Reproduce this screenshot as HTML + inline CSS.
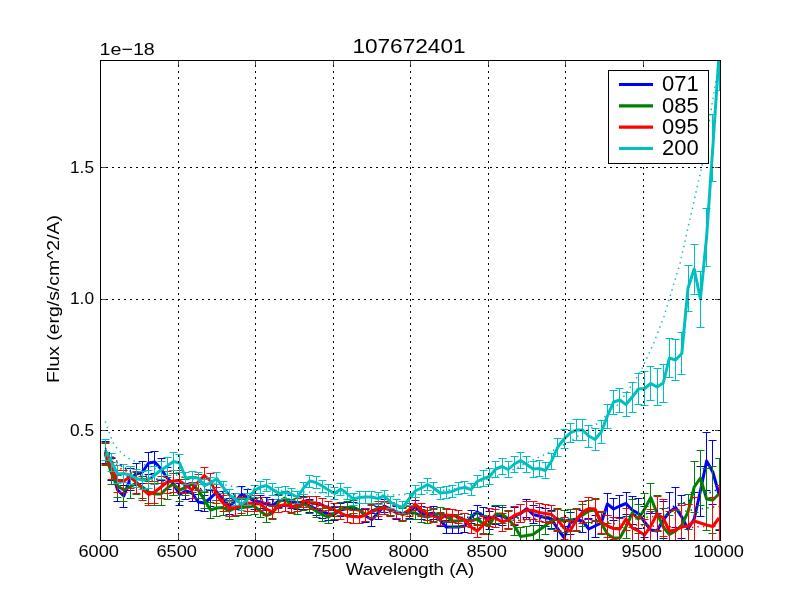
<!DOCTYPE html><html><head><meta charset="utf-8"><style>html,body{margin:0;padding:0;width:800px;height:600px;overflow:hidden;background:#fff}text{will-change:transform}</style></head><body><svg width="800" height="600" viewBox="0 0 800 600" style="position:absolute;left:0;top:0"><rect x="0" y="0" width="800" height="600" fill="#fff"/><defs><clipPath id="ax"><rect x="100.5" y="60.5" width="620" height="480"/></clipPath></defs><g clip-path="url(#ax)"><path d="M105.5 441.5V463.5M101.5 441.5h8M101.5 463.5h8M111.5 458.5V480.5M107.5 458.5h8M107.5 480.5h8M117.5 479.5V501.5M113.5 479.5h8M113.5 501.5h8M123.5 485.5V507.5M119.5 485.5h8M119.5 507.5h8M130.5 468.5V490.5M126.5 468.5h8M126.5 490.5h8M136.5 463.5V485.5M132.5 463.5h8M132.5 485.5h8M142.5 461.5V483.5M138.5 461.5h8M138.5 483.5h8M148.5 452.5V474.5M144.5 452.5h8M144.5 474.5h8M154.5 451.5V473.5M150.5 451.5h8M150.5 473.5h8M161.5 458.5V480.5M157.5 458.5h8M157.5 480.5h8M167.5 467.5V489.5M163.5 467.5h8M163.5 489.5h8M173.5 473.5V495.5M169.5 473.5h8M169.5 495.5h8M179.5 483.5V505.5M175.5 483.5h8M175.5 505.5h8M185.5 483.5V499.5M181.5 483.5h8M181.5 499.5h8M192.5 485.5V501.5M188.5 485.5h8M188.5 501.5h8M198.5 494.5V510.5M194.5 494.5h8M194.5 510.5h8M204.5 495.5V511.5M200.5 495.5h8M200.5 511.5h8M210.5 490.5V506.5M206.5 490.5h8M206.5 506.5h8M216.5 484.5V500.5M212.5 484.5h8M212.5 500.5h8M223.5 491.5V507.5M219.5 491.5h8M219.5 507.5h8M229.5 498.5V514.5M225.5 498.5h8M225.5 514.5h8M235.5 493.5V509.5M231.5 493.5h8M231.5 509.5h8M241.5 486.5V502.5M237.5 486.5h8M237.5 502.5h8M247.5 489.5V505.5M243.5 489.5h8M243.5 505.5h8M254.5 493.5V509.5M250.5 493.5h8M250.5 509.5h8M260.5 495.5V508.5M256.5 495.5h8M256.5 508.5h8M266.5 497.5V510.5M262.5 497.5h8M262.5 510.5h8M272.5 499.5V512.5M268.5 499.5h8M268.5 512.5h8M278.5 494.5V507.5M274.5 494.5h8M274.5 507.5h8M285.5 493.5V506.5M281.5 493.5h8M281.5 506.5h8M291.5 495.5V508.5M287.5 495.5h8M287.5 508.5h8M297.5 496.5V509.5M293.5 496.5h8M293.5 509.5h8M303.5 496.5V509.5M299.5 496.5h8M299.5 509.5h8M309.5 499.5V512.5M305.5 499.5h8M305.5 512.5h8M316.5 502.5V515.5M312.5 502.5h8M312.5 515.5h8M322.5 505.5V518.5M318.5 505.5h8M318.5 518.5h8M328.5 507.5V520.5M324.5 507.5h8M324.5 520.5h8M334.5 507.5V520.5M330.5 507.5h8M330.5 520.5h8M340.5 503.5V516.5M336.5 503.5h8M336.5 516.5h8M347.5 502.5V515.5M343.5 502.5h8M343.5 515.5h8M353.5 502.5V515.5M349.5 502.5h8M349.5 515.5h8M359.5 503.5V516.5M355.5 503.5h8M355.5 516.5h8M365.5 509.5V522.5M361.5 509.5h8M361.5 522.5h8M371.5 513.5V526.5M367.5 513.5h8M367.5 526.5h8M378.5 506.5V519.5M374.5 506.5h8M374.5 519.5h8M384.5 499.5V512.5M380.5 499.5h8M380.5 512.5h8M390.5 502.5V515.5M386.5 502.5h8M386.5 515.5h8M396.5 506.5V519.5M392.5 506.5h8M392.5 519.5h8M402.5 507.5V520.5M398.5 507.5h8M398.5 520.5h8M409.5 505.5V518.5M405.5 505.5h8M405.5 518.5h8M415.5 500.5V513.5M411.5 500.5h8M411.5 513.5h8M421.5 506.5V519.5M417.5 506.5h8M417.5 519.5h8M427.5 507.5V520.5M423.5 507.5h8M423.5 520.5h8M433.5 506.5V519.5M429.5 506.5h8M429.5 519.5h8M440.5 513.5V526.5M436.5 513.5h8M436.5 526.5h8M446.5 520.5V533.5M442.5 520.5h8M442.5 533.5h8M452.5 520.5V533.5M448.5 520.5h8M448.5 533.5h8M458.5 520.5V533.5M454.5 520.5h8M454.5 533.5h8M464.5 519.5V532.5M460.5 519.5h8M460.5 532.5h8M471.5 510.5V523.5M467.5 510.5h8M467.5 523.5h8M477.5 505.5V518.5M473.5 505.5h8M473.5 518.5h8M483.5 507.5V525.5M479.5 507.5h8M479.5 525.5h8M489.5 511.5V529.5M485.5 511.5h8M485.5 529.5h8M495.5 506.5V524.5M491.5 506.5h8M491.5 524.5h8M502.5 507.5V525.5M498.5 507.5h8M498.5 525.5h8M508.5 510.5V528.5M504.5 510.5h8M504.5 528.5h8M514.5 507.5V525.5M510.5 507.5h8M510.5 525.5h8M520.5 504.5V522.5M516.5 504.5h8M516.5 522.5h8M526.5 499.5V517.5M522.5 499.5h8M522.5 517.5h8M533.5 505.5V523.5M529.5 505.5h8M529.5 523.5h8M539.5 507.5V525.5M535.5 507.5h8M535.5 525.5h8M545.5 508.5V526.5M541.5 508.5h8M541.5 526.5h8M551.5 510.5V528.5M547.5 510.5h8M547.5 528.5h8M557.5 518.5V540.5M553.5 518.5h8M553.5 540.5h8M564.5 526.5V548.5M560.5 526.5h8M560.5 548.5h8M570.5 512.5V534.5M566.5 512.5h8M566.5 534.5h8M576.5 509.5V531.5M572.5 509.5h8M572.5 531.5h8M582.5 510.5V532.5M578.5 510.5h8M578.5 532.5h8M588.5 518.5V540.5M584.5 518.5h8M584.5 540.5h8M595.5 515.5V537.5M591.5 515.5h8M591.5 537.5h8M601.5 512.5V534.5M597.5 512.5h8M597.5 534.5h8M607.5 493.5V515.5M603.5 493.5h8M603.5 515.5h8M613.5 498.5V520.5M609.5 498.5h8M609.5 520.5h8M619.5 495.5V517.5M615.5 495.5h8M615.5 517.5h8M626.5 492.5V514.5M622.5 492.5h8M622.5 514.5h8M632.5 496.5V524.5M628.5 496.5h8M628.5 524.5h8M638.5 498.5V528.5M634.5 498.5h8M634.5 528.5h8M644.5 506.5V537.5M640.5 506.5h8M640.5 537.5h8M650.5 513.5V546.5M646.5 513.5h8M646.5 546.5h8M657.5 513.5V548.5M653.5 513.5h8M653.5 548.5h8M663.5 501.5V538.5M659.5 501.5h8M659.5 538.5h8M669.5 492.5V531.5M665.5 492.5h8M665.5 531.5h8M675.5 487.5V527.5M671.5 487.5h8M671.5 527.5h8M681.5 495.5V538.5M677.5 495.5h8M677.5 538.5h8M688.5 504.5V554.5M684.5 504.5h8M684.5 554.5h8M694.5 492.5V545.5M690.5 492.5h8M690.5 545.5h8M700.5 466.5V516.5M696.5 466.5h8M696.5 516.5h8M706.5 432.5V490.5M702.5 432.5h8M702.5 490.5h8M712.5 440.5V504.5M708.5 440.5h8M708.5 504.5h8M719.5 458.5V530.5M715.5 458.5h8M715.5 530.5h8" stroke="#0000ff" stroke-width="1" fill="none"/><polyline points="105.2,452.0 111.4,469.0 117.6,490.0 123.8,496.0 130.0,479.0 136.2,474.0 142.4,472.0 148.6,463.0 154.8,462.0 161.0,469.0 167.2,478.0 173.4,484.0 179.6,494.5 185.8,491.0 192.0,493.0 198.2,502.0 204.4,503.0 210.6,498.0 216.8,492.0 223.0,499.0 229.2,506.0 235.4,501.0 241.6,494.5 247.8,497.0 254.0,501.0 260.2,502.0 266.4,504.0 272.6,505.5 278.8,501.0 285.0,499.5 291.2,502.0 297.4,503.0 303.6,503.0 309.8,506.0 316.0,509.0 322.2,511.5 328.4,514.0 334.6,514.0 340.8,510.0 347.0,508.5 353.2,509.0 359.4,510.0 365.6,516.0 371.8,519.5 378.0,513.0 384.2,506.0 390.4,509.0 396.6,513.0 402.8,514.0 409.0,511.5 415.2,507.0 421.4,513.0 427.6,514.0 433.8,513.0 440.0,520.0 446.2,527.0 452.4,527.0 458.6,527.0 464.8,526.0 471.0,517.0 477.2,512.0 483.4,516.0 489.6,520.0 495.8,515.0 502.0,516.0 508.2,519.0 514.4,516.5 520.6,513.5 526.8,508.5 533.0,514.5 539.2,516.0 545.4,517.5 551.6,519.0 557.8,529.0 564.0,537.5 570.2,523.0 576.4,520.0 582.6,521.0 588.8,529.0 595.0,526.0 601.2,523.0 607.4,504.0 613.6,509.0 619.8,506.0 626.0,503.5 632.2,510.0 638.4,513.5 644.6,522.0 650.8,530.0 657.0,531.0 663.2,520.0 669.4,512.0 675.6,507.5 681.8,517.0 688.0,529.0 694.2,519.0 700.4,491.0 706.6,461.0 712.8,472.0 719.0,494.0" stroke="#0000ff" stroke-width="3" fill="none" stroke-linejoin="round"/><path d="M105.5 443.5V465.5M101.5 443.5h8M101.5 465.5h8M111.5 462.5V484.5M107.5 462.5h8M107.5 484.5h8M117.5 475.5V497.5M113.5 475.5h8M113.5 497.5h8M123.5 479.5V501.5M119.5 479.5h8M119.5 501.5h8M130.5 476.5V498.5M126.5 476.5h8M126.5 498.5h8M136.5 472.5V494.5M132.5 472.5h8M132.5 494.5h8M142.5 476.5V498.5M138.5 476.5h8M138.5 498.5h8M148.5 481.5V503.5M144.5 481.5h8M144.5 503.5h8M154.5 483.5V505.5M150.5 483.5h8M150.5 505.5h8M161.5 483.5V505.5M157.5 483.5h8M157.5 505.5h8M167.5 477.5V499.5M163.5 477.5h8M163.5 499.5h8M173.5 473.5V495.5M169.5 473.5h8M169.5 495.5h8M179.5 479.5V501.5M175.5 479.5h8M175.5 501.5h8M185.5 479.5V495.5M181.5 479.5h8M181.5 495.5h8M192.5 476.5V492.5M188.5 476.5h8M188.5 492.5h8M198.5 482.5V498.5M194.5 482.5h8M194.5 498.5h8M204.5 492.5V508.5M200.5 492.5h8M200.5 508.5h8M210.5 502.5V518.5M206.5 502.5h8M206.5 518.5h8M216.5 500.5V516.5M212.5 500.5h8M212.5 516.5h8M223.5 499.5V515.5M219.5 499.5h8M219.5 515.5h8M229.5 503.5V519.5M225.5 503.5h8M225.5 519.5h8M235.5 500.5V516.5M231.5 500.5h8M231.5 516.5h8M241.5 499.5V515.5M237.5 499.5h8M237.5 515.5h8M247.5 499.5V515.5M243.5 499.5h8M243.5 515.5h8M254.5 498.5V514.5M250.5 498.5h8M250.5 514.5h8M260.5 504.5V517.5M256.5 504.5h8M256.5 517.5h8M266.5 509.5V522.5M262.5 509.5h8M262.5 522.5h8M272.5 506.5V519.5M268.5 506.5h8M268.5 519.5h8M278.5 495.5V508.5M274.5 495.5h8M274.5 508.5h8M285.5 491.5V504.5M281.5 491.5h8M281.5 504.5h8M291.5 499.5V512.5M287.5 499.5h8M287.5 512.5h8M297.5 501.5V514.5M293.5 501.5h8M293.5 514.5h8M303.5 497.5V510.5M299.5 497.5h8M299.5 510.5h8M309.5 500.5V513.5M305.5 500.5h8M305.5 513.5h8M316.5 504.5V517.5M312.5 504.5h8M312.5 517.5h8M322.5 508.5V521.5M318.5 508.5h8M318.5 521.5h8M328.5 510.5V523.5M324.5 510.5h8M324.5 523.5h8M334.5 506.5V519.5M330.5 506.5h8M330.5 519.5h8M340.5 502.5V515.5M336.5 502.5h8M336.5 515.5h8M347.5 501.5V514.5M343.5 501.5h8M343.5 514.5h8M353.5 500.5V513.5M349.5 500.5h8M349.5 513.5h8M359.5 503.5V516.5M355.5 503.5h8M355.5 516.5h8M365.5 508.5V521.5M361.5 508.5h8M361.5 521.5h8M371.5 504.5V517.5M367.5 504.5h8M367.5 517.5h8M378.5 501.5V514.5M374.5 501.5h8M374.5 514.5h8M384.5 501.5V514.5M380.5 501.5h8M380.5 514.5h8M390.5 502.5V515.5M386.5 502.5h8M386.5 515.5h8M396.5 505.5V518.5M392.5 505.5h8M392.5 518.5h8M402.5 508.5V521.5M398.5 508.5h8M398.5 521.5h8M409.5 506.5V519.5M405.5 506.5h8M405.5 519.5h8M415.5 506.5V519.5M411.5 506.5h8M411.5 519.5h8M421.5 509.5V522.5M417.5 509.5h8M417.5 522.5h8M427.5 510.5V523.5M423.5 510.5h8M423.5 523.5h8M433.5 508.5V521.5M429.5 508.5h8M429.5 521.5h8M440.5 507.5V520.5M436.5 507.5h8M436.5 520.5h8M446.5 509.5V522.5M442.5 509.5h8M442.5 522.5h8M452.5 514.5V527.5M448.5 514.5h8M448.5 527.5h8M458.5 514.5V527.5M454.5 514.5h8M454.5 527.5h8M464.5 513.5V526.5M460.5 513.5h8M460.5 526.5h8M471.5 514.5V527.5M467.5 514.5h8M467.5 527.5h8M477.5 512.5V525.5M473.5 512.5h8M473.5 525.5h8M483.5 515.5V533.5M479.5 515.5h8M479.5 533.5h8M489.5 516.5V534.5M485.5 516.5h8M485.5 534.5h8M495.5 505.5V523.5M491.5 505.5h8M491.5 523.5h8M502.5 505.5V523.5M498.5 505.5h8M498.5 523.5h8M508.5 510.5V528.5M504.5 510.5h8M504.5 528.5h8M514.5 517.5V535.5M510.5 517.5h8M510.5 535.5h8M520.5 527.5V545.5M516.5 527.5h8M516.5 545.5h8M526.5 526.5V544.5M522.5 526.5h8M522.5 544.5h8M533.5 525.5V543.5M529.5 525.5h8M529.5 543.5h8M539.5 521.5V539.5M535.5 521.5h8M535.5 539.5h8M545.5 516.5V534.5M541.5 516.5h8M541.5 534.5h8M551.5 511.5V529.5M547.5 511.5h8M547.5 529.5h8M557.5 508.5V530.5M553.5 508.5h8M553.5 530.5h8M564.5 510.5V532.5M560.5 510.5h8M560.5 532.5h8M570.5 509.5V531.5M566.5 509.5h8M566.5 531.5h8M576.5 508.5V530.5M572.5 508.5h8M572.5 530.5h8M582.5 504.5V526.5M578.5 504.5h8M578.5 526.5h8M588.5 500.5V522.5M584.5 500.5h8M584.5 522.5h8M595.5 499.5V521.5M591.5 499.5h8M591.5 521.5h8M601.5 512.5V534.5M597.5 512.5h8M597.5 534.5h8M607.5 523.5V545.5M603.5 523.5h8M603.5 545.5h8M613.5 527.5V549.5M609.5 527.5h8M609.5 549.5h8M619.5 527.5V549.5M615.5 527.5h8M615.5 549.5h8M626.5 516.5V538.5M622.5 516.5h8M622.5 538.5h8M632.5 499.5V527.5M628.5 499.5h8M628.5 527.5h8M638.5 504.5V533.5M634.5 504.5h8M634.5 533.5h8M644.5 493.5V524.5M640.5 493.5h8M640.5 524.5h8M650.5 483.5V511.5M646.5 483.5h8M646.5 511.5h8M657.5 495.5V530.5M653.5 495.5h8M653.5 530.5h8M663.5 508.5V545.5M659.5 508.5h8M659.5 545.5h8M669.5 515.5V553.5M665.5 515.5h8M665.5 553.5h8M675.5 510.5V551.5M671.5 510.5h8M671.5 551.5h8M681.5 503.5V546.5M677.5 503.5h8M677.5 546.5h8M688.5 494.5V529.5M684.5 494.5h8M684.5 529.5h8M694.5 461.5V512.5M690.5 461.5h8M690.5 512.5h8M700.5 450.5V505.5M696.5 450.5h8M696.5 505.5h8M706.5 468.5V530.5M702.5 468.5h8M702.5 530.5h8M712.5 466.5V533.5M708.5 466.5h8M708.5 533.5h8M719.5 458.5V529.5M715.5 458.5h8M715.5 529.5h8" stroke="#008000" stroke-width="1" fill="none"/><polyline points="105.2,454.0 111.4,473.0 117.6,486.0 123.8,490.0 130.0,487.0 136.2,483.0 142.4,487.0 148.6,492.0 154.8,494.0 161.0,494.0 167.2,488.0 173.4,484.0 179.6,490.0 185.8,487.5 192.0,484.0 198.2,490.0 204.4,500.0 210.6,510.0 216.8,508.0 223.0,507.5 229.2,511.0 235.4,508.0 241.6,507.5 247.8,507.0 254.0,506.0 260.2,511.0 266.4,515.5 272.6,513.0 278.8,502.0 285.0,498.0 291.2,506.0 297.4,508.0 303.6,504.0 309.8,507.0 316.0,511.0 322.2,514.5 328.4,517.0 334.6,513.0 340.8,509.0 347.0,507.5 353.2,507.0 359.4,510.0 365.6,515.0 371.8,511.0 378.0,508.0 384.2,507.5 390.4,509.0 396.6,512.0 402.8,514.5 409.0,512.5 415.2,513.0 421.4,516.0 427.6,517.0 433.8,515.0 440.0,513.5 446.2,516.0 452.4,521.0 458.6,521.0 464.8,520.0 471.0,521.0 477.2,519.0 483.4,524.0 489.6,525.0 495.8,514.0 502.0,514.0 508.2,519.0 514.4,526.0 520.6,536.5 526.8,535.5 533.0,534.5 539.2,530.0 545.4,525.5 551.6,520.5 557.8,519.0 564.0,521.0 570.2,520.0 576.4,519.0 582.6,515.0 588.8,511.0 595.0,510.0 601.2,523.0 607.4,534.0 613.6,538.0 619.8,538.0 626.0,527.0 632.2,513.0 638.4,519.0 644.6,509.0 650.8,497.5 657.0,513.0 663.2,527.0 669.4,534.5 675.6,531.0 681.8,525.0 688.0,512.0 694.2,487.0 700.4,478.0 706.6,499.0 712.8,500.0 719.0,494.0" stroke="#008000" stroke-width="3" fill="none" stroke-linejoin="round"/><path d="M105.5 442.5V464.5M101.5 442.5h8M101.5 464.5h8M111.5 457.5V479.5M107.5 457.5h8M107.5 479.5h8M117.5 470.5V492.5M113.5 470.5h8M113.5 492.5h8M123.5 470.5V492.5M119.5 470.5h8M119.5 492.5h8M130.5 466.5V488.5M126.5 466.5h8M126.5 488.5h8M136.5 471.5V493.5M132.5 471.5h8M132.5 493.5h8M142.5 478.5V500.5M138.5 478.5h8M138.5 500.5h8M148.5 483.5V505.5M144.5 483.5h8M144.5 505.5h8M154.5 481.5V503.5M150.5 481.5h8M150.5 503.5h8M161.5 476.5V498.5M157.5 476.5h8M157.5 498.5h8M167.5 471.5V493.5M163.5 471.5h8M163.5 493.5h8M173.5 470.5V492.5M169.5 470.5h8M169.5 492.5h8M179.5 470.5V492.5M175.5 470.5h8M175.5 492.5h8M185.5 477.5V493.5M181.5 477.5h8M181.5 493.5h8M192.5 482.5V498.5M188.5 482.5h8M188.5 498.5h8M198.5 474.5V490.5M194.5 474.5h8M194.5 490.5h8M204.5 467.5V483.5M200.5 467.5h8M200.5 483.5h8M210.5 473.5V489.5M206.5 473.5h8M206.5 489.5h8M216.5 487.5V503.5M212.5 487.5h8M212.5 503.5h8M223.5 495.5V511.5M219.5 495.5h8M219.5 511.5h8M229.5 500.5V516.5M225.5 500.5h8M225.5 516.5h8M235.5 499.5V515.5M231.5 499.5h8M231.5 515.5h8M241.5 497.5V513.5M237.5 497.5h8M237.5 513.5h8M247.5 495.5V511.5M243.5 495.5h8M243.5 511.5h8M254.5 495.5V511.5M250.5 495.5h8M250.5 511.5h8M260.5 497.5V510.5M256.5 497.5h8M256.5 510.5h8M266.5 502.5V515.5M262.5 502.5h8M262.5 515.5h8M272.5 505.5V518.5M268.5 505.5h8M268.5 518.5h8M278.5 499.5V512.5M274.5 499.5h8M274.5 512.5h8M285.5 498.5V511.5M281.5 498.5h8M281.5 511.5h8M291.5 500.5V513.5M287.5 500.5h8M287.5 513.5h8M297.5 498.5V511.5M293.5 498.5h8M293.5 511.5h8M303.5 494.5V507.5M299.5 494.5h8M299.5 507.5h8M309.5 496.5V509.5M305.5 496.5h8M305.5 509.5h8M316.5 496.5V509.5M312.5 496.5h8M312.5 509.5h8M322.5 498.5V511.5M318.5 498.5h8M318.5 511.5h8M328.5 501.5V514.5M324.5 501.5h8M324.5 514.5h8M334.5 503.5V516.5M330.5 503.5h8M330.5 516.5h8M340.5 506.5V519.5M336.5 506.5h8M336.5 519.5h8M347.5 509.5V522.5M343.5 509.5h8M343.5 522.5h8M353.5 510.5V523.5M349.5 510.5h8M349.5 523.5h8M359.5 510.5V523.5M355.5 510.5h8M355.5 523.5h8M365.5 508.5V521.5M361.5 508.5h8M361.5 521.5h8M371.5 505.5V518.5M367.5 505.5h8M367.5 518.5h8M378.5 503.5V516.5M374.5 503.5h8M374.5 516.5h8M384.5 501.5V514.5M380.5 501.5h8M380.5 514.5h8M390.5 503.5V516.5M386.5 503.5h8M386.5 516.5h8M396.5 505.5V518.5M392.5 505.5h8M392.5 518.5h8M402.5 507.5V520.5M398.5 507.5h8M398.5 520.5h8M409.5 503.5V516.5M405.5 503.5h8M405.5 516.5h8M415.5 497.5V510.5M411.5 497.5h8M411.5 510.5h8M421.5 503.5V516.5M417.5 503.5h8M417.5 516.5h8M427.5 507.5V520.5M423.5 507.5h8M423.5 520.5h8M433.5 509.5V522.5M429.5 509.5h8M429.5 522.5h8M440.5 512.5V525.5M436.5 512.5h8M436.5 525.5h8M446.5 508.5V521.5M442.5 508.5h8M442.5 521.5h8M452.5 509.5V522.5M448.5 509.5h8M448.5 522.5h8M458.5 510.5V523.5M454.5 510.5h8M454.5 523.5h8M464.5 513.5V526.5M460.5 513.5h8M460.5 526.5h8M471.5 520.5V533.5M467.5 520.5h8M467.5 533.5h8M477.5 524.5V537.5M473.5 524.5h8M473.5 537.5h8M483.5 516.5V534.5M479.5 516.5h8M479.5 534.5h8M489.5 508.5V526.5M485.5 508.5h8M485.5 526.5h8M495.5 509.5V527.5M491.5 509.5h8M491.5 527.5h8M502.5 513.5V531.5M498.5 513.5h8M498.5 531.5h8M508.5 511.5V529.5M504.5 511.5h8M504.5 529.5h8M514.5 506.5V524.5M510.5 506.5h8M510.5 524.5h8M520.5 504.5V522.5M516.5 504.5h8M516.5 522.5h8M526.5 501.5V519.5M522.5 501.5h8M522.5 519.5h8M533.5 501.5V519.5M529.5 501.5h8M529.5 519.5h8M539.5 503.5V521.5M535.5 503.5h8M535.5 521.5h8M545.5 504.5V522.5M541.5 504.5h8M541.5 522.5h8M551.5 505.5V523.5M547.5 505.5h8M547.5 523.5h8M557.5 509.5V531.5M553.5 509.5h8M553.5 531.5h8M564.5 517.5V539.5M560.5 517.5h8M560.5 539.5h8M570.5 520.5V542.5M566.5 520.5h8M566.5 542.5h8M576.5 509.5V531.5M572.5 509.5h8M572.5 531.5h8M582.5 501.5V523.5M578.5 501.5h8M578.5 523.5h8M588.5 497.5V519.5M584.5 497.5h8M584.5 519.5h8M595.5 498.5V520.5M591.5 498.5h8M591.5 520.5h8M601.5 511.5V533.5M597.5 511.5h8M597.5 533.5h8M607.5 515.5V537.5M603.5 515.5h8M603.5 537.5h8M613.5 517.5V539.5M609.5 517.5h8M609.5 539.5h8M619.5 518.5V540.5M615.5 518.5h8M615.5 540.5h8M626.5 508.5V530.5M622.5 508.5h8M622.5 530.5h8M632.5 514.5V542.5M628.5 514.5h8M628.5 542.5h8M638.5 516.5V545.5M634.5 516.5h8M634.5 545.5h8M644.5 519.5V550.5M640.5 519.5h8M640.5 550.5h8M650.5 509.5V542.5M646.5 509.5h8M646.5 542.5h8M657.5 496.5V531.5M653.5 496.5h8M653.5 531.5h8M663.5 499.5V536.5M659.5 499.5h8M659.5 536.5h8M669.5 511.5V550.5M665.5 511.5h8M665.5 550.5h8M675.5 509.5V550.5M671.5 509.5h8M671.5 550.5h8M681.5 505.5V548.5M677.5 505.5h8M677.5 548.5h8M688.5 504.5V547.5M684.5 504.5h8M684.5 547.5h8M694.5 497.5V544.5M690.5 497.5h8M690.5 544.5h8M712.5 497.5V556.5M708.5 497.5h8M708.5 556.5h8M719.5 485.5V550.5M715.5 485.5h8M715.5 550.5h8" stroke="#ff0000" stroke-width="1" fill="none"/><polyline points="105.2,453.0 111.4,468.0 117.6,481.0 123.8,481.0 130.0,477.0 136.2,482.0 142.4,489.0 148.6,494.5 154.8,492.0 161.0,487.0 167.2,482.0 173.4,481.0 179.6,481.0 185.8,485.0 192.0,490.0 198.2,482.0 204.4,475.5 210.6,481.0 216.8,495.0 223.0,503.0 229.2,508.0 235.4,507.5 241.6,505.0 247.8,503.0 254.0,503.5 260.2,504.0 266.4,509.0 272.6,512.0 278.8,506.0 285.0,504.5 291.2,507.0 297.4,505.0 303.6,501.0 309.8,502.5 316.0,503.0 322.2,505.0 328.4,508.0 334.6,510.0 340.8,513.0 347.0,516.0 353.2,516.5 359.4,517.0 365.6,515.0 371.8,511.5 378.0,509.5 384.2,508.0 390.4,510.0 396.6,512.0 402.8,514.0 409.0,510.0 415.2,504.0 421.4,510.0 427.6,514.0 433.8,516.0 440.0,519.0 446.2,515.0 452.4,515.5 458.6,517.0 464.8,520.0 471.0,527.0 477.2,531.0 483.4,525.0 489.6,517.0 495.8,518.0 502.0,522.0 508.2,520.0 514.4,515.5 520.6,513.0 526.8,510.0 533.0,510.5 539.2,512.5 545.4,513.5 551.6,514.5 557.8,520.0 564.0,528.0 570.2,531.0 576.4,520.0 582.6,512.0 588.8,508.5 595.0,509.0 601.2,522.0 607.4,526.0 613.6,528.5 619.8,529.0 626.0,519.0 632.2,528.0 638.4,531.0 644.6,535.0 650.8,526.0 657.0,514.0 663.2,518.0 669.4,531.0 675.6,530.0 681.8,527.0 688.0,526.0 694.2,521.0 700.4,523.0 706.6,525.0 712.8,526.5 719.0,518.0" stroke="#ff0000" stroke-width="3" fill="none" stroke-linejoin="round"/><path d="M105.5 439.5V460.5M101.5 439.5h8M101.5 460.5h8M111.5 453.5V471.5M107.5 453.5h8M107.5 471.5h8M117.5 465.5V483.5M113.5 465.5h8M113.5 483.5h8M123.5 464.5V482.5M119.5 464.5h8M119.5 482.5h8M130.5 466.5V484.5M126.5 466.5h8M126.5 484.5h8M136.5 469.5V487.5M132.5 469.5h8M132.5 487.5h8M142.5 471.5V489.5M138.5 471.5h8M138.5 489.5h8M148.5 470.5V488.5M144.5 470.5h8M144.5 488.5h8M154.5 466.5V484.5M150.5 466.5h8M150.5 484.5h8M161.5 461.5V479.5M157.5 461.5h8M157.5 479.5h8M167.5 457.5V475.5M163.5 457.5h8M163.5 475.5h8M173.5 452.5V470.5M169.5 452.5h8M169.5 470.5h8M179.5 454.5V472.5M175.5 454.5h8M175.5 472.5h8M185.5 472.5V484.5M181.5 472.5h8M181.5 484.5h8M192.5 471.5V483.5M188.5 471.5h8M188.5 483.5h8M198.5 472.5V484.5M194.5 472.5h8M194.5 484.5h8M204.5 479.5V491.5M200.5 479.5h8M200.5 491.5h8M210.5 477.5V489.5M206.5 477.5h8M206.5 489.5h8M216.5 472.5V484.5M212.5 472.5h8M212.5 484.5h8M223.5 481.5V493.5M219.5 481.5h8M219.5 493.5h8M229.5 489.5V501.5M225.5 489.5h8M225.5 501.5h8M235.5 493.5V505.5M231.5 493.5h8M231.5 505.5h8M241.5 498.5V510.5M237.5 498.5h8M237.5 510.5h8M247.5 493.5V505.5M243.5 493.5h8M243.5 505.5h8M254.5 485.5V497.5M250.5 485.5h8M250.5 497.5h8M260.5 481.5V493.5M256.5 481.5h8M256.5 493.5h8M266.5 479.5V491.5M262.5 479.5h8M262.5 491.5h8M272.5 483.5V495.5M268.5 483.5h8M268.5 495.5h8M278.5 487.5V499.5M274.5 487.5h8M274.5 499.5h8M285.5 486.5V498.5M281.5 486.5h8M281.5 498.5h8M291.5 488.5V500.5M287.5 488.5h8M287.5 500.5h8M297.5 491.5V503.5M293.5 491.5h8M293.5 503.5h8M303.5 482.5V494.5M299.5 482.5h8M299.5 494.5h8M309.5 475.5V487.5M305.5 475.5h8M305.5 487.5h8M316.5 476.5V488.5M312.5 476.5h8M312.5 488.5h8M322.5 480.5V492.5M318.5 480.5h8M318.5 492.5h8M328.5 484.5V496.5M324.5 484.5h8M324.5 496.5h8M334.5 487.5V499.5M330.5 487.5h8M330.5 499.5h8M340.5 483.5V495.5M336.5 483.5h8M336.5 495.5h8M347.5 487.5V499.5M343.5 487.5h8M343.5 499.5h8M353.5 493.5V505.5M349.5 493.5h8M349.5 505.5h8M359.5 491.5V503.5M355.5 491.5h8M355.5 503.5h8M365.5 491.5V503.5M361.5 491.5h8M361.5 503.5h8M371.5 491.5V503.5M367.5 491.5h8M367.5 503.5h8M378.5 492.5V504.5M374.5 492.5h8M374.5 504.5h8M384.5 490.5V502.5M380.5 490.5h8M380.5 502.5h8M390.5 496.5V508.5M386.5 496.5h8M386.5 508.5h8M396.5 499.5V511.5M392.5 499.5h8M392.5 511.5h8M402.5 501.5V513.5M398.5 501.5h8M398.5 513.5h8M409.5 493.5V505.5M405.5 493.5h8M405.5 505.5h8M415.5 485.5V497.5M411.5 485.5h8M411.5 497.5h8M421.5 482.5V494.5M417.5 482.5h8M417.5 494.5h8M427.5 478.5V490.5M423.5 478.5h8M423.5 490.5h8M433.5 482.5V494.5M429.5 482.5h8M429.5 494.5h8M440.5 487.5V499.5M436.5 487.5h8M436.5 499.5h8M446.5 486.5V498.5M442.5 486.5h8M442.5 498.5h8M452.5 485.5V497.5M448.5 485.5h8M448.5 497.5h8M458.5 482.5V494.5M454.5 482.5h8M454.5 494.5h8M464.5 481.5V493.5M460.5 481.5h8M460.5 493.5h8M471.5 483.5V495.5M467.5 483.5h8M467.5 495.5h8M477.5 475.5V487.5M473.5 475.5h8M473.5 487.5h8M483.5 470.5V486.5M479.5 470.5h8M479.5 486.5h8M489.5 468.5V484.5M485.5 468.5h8M485.5 484.5h8M495.5 461.5V477.5M491.5 461.5h8M491.5 477.5h8M502.5 458.5V474.5M498.5 458.5h8M498.5 474.5h8M508.5 461.5V477.5M504.5 461.5h8M504.5 477.5h8M514.5 456.5V472.5M510.5 456.5h8M510.5 472.5h8M520.5 452.5V468.5M516.5 452.5h8M516.5 468.5h8M526.5 456.5V472.5M522.5 456.5h8M522.5 472.5h8M533.5 461.5V477.5M529.5 461.5h8M529.5 477.5h8M539.5 460.5V476.5M535.5 460.5h8M535.5 476.5h8M545.5 462.5V478.5M541.5 462.5h8M541.5 478.5h8M551.5 453.5V469.5M547.5 453.5h8M547.5 469.5h8M557.5 438.5V456.5M553.5 438.5h8M553.5 456.5h8M564.5 429.5V448.5M560.5 429.5h8M560.5 448.5h8M570.5 423.5V442.5M566.5 423.5h8M566.5 442.5h8M576.5 419.5V440.5M572.5 419.5h8M572.5 440.5h8M582.5 419.5V440.5M578.5 419.5h8M578.5 440.5h8M588.5 425.5V447.5M584.5 425.5h8M584.5 447.5h8M595.5 428.5V450.5M591.5 428.5h8M591.5 450.5h8M601.5 420.5V443.5M597.5 420.5h8M597.5 443.5h8M607.5 404.5V428.5M603.5 404.5h8M603.5 428.5h8M613.5 390.5V414.5M609.5 390.5h8M609.5 414.5h8M619.5 388.5V412.5M615.5 388.5h8M615.5 412.5h8M626.5 392.5V416.5M622.5 392.5h8M622.5 416.5h8M632.5 382.5V412.5M628.5 382.5h8M628.5 412.5h8M638.5 373.5V404.5M634.5 373.5h8M634.5 404.5h8M644.5 371.5V405.5M640.5 371.5h8M640.5 405.5h8M650.5 366.5V400.5M646.5 366.5h8M646.5 400.5h8M657.5 368.5V405.5M653.5 368.5h8M653.5 405.5h8M663.5 364.5V402.5M659.5 364.5h8M659.5 402.5h8M669.5 338.5V377.5M665.5 338.5h8M665.5 377.5h8M675.5 339.5V380.5M671.5 339.5h8M671.5 380.5h8M681.5 332.5V374.5M677.5 332.5h8M677.5 374.5h8M688.5 265.5V311.5M684.5 265.5h8M684.5 311.5h8M694.5 244.5V294.5M690.5 244.5h8M690.5 294.5h8M700.5 271.5V327.5M696.5 271.5h8M696.5 327.5h8M706.5 208.5V266.5M702.5 208.5h8M702.5 266.5h8M712.5 114.5V181.5M708.5 114.5h8M708.5 181.5h8M719.5 20.5V90.5M715.5 20.5h8M715.5 90.5h8" stroke="#00bfbf" stroke-width="1" fill="none"/><polyline points="105.2,450.0 111.4,462.0 117.6,474.0 123.8,473.5 130.0,475.0 136.2,478.5 142.4,480.0 148.6,479.5 154.8,475.0 161.0,470.0 167.2,466.0 173.4,461.5 179.6,463.0 185.8,478.0 192.0,477.5 198.2,478.0 204.4,485.5 210.6,483.0 216.8,478.5 223.0,487.0 229.2,495.0 235.4,499.0 241.6,504.5 247.8,499.0 254.0,491.0 260.2,487.0 266.4,485.5 272.6,489.5 278.8,493.5 285.0,492.5 291.2,494.0 297.4,497.0 303.6,488.0 309.8,481.0 316.0,482.5 322.2,486.0 328.4,490.0 334.6,493.5 340.8,489.0 347.0,493.5 353.2,499.0 359.4,497.5 365.6,497.0 371.8,497.0 378.0,498.5 384.2,496.0 390.4,502.0 396.6,505.5 402.8,507.5 409.0,499.0 415.2,491.0 421.4,488.0 427.6,484.5 433.8,488.0 440.0,493.0 446.2,492.5 452.4,491.5 458.6,488.5 464.8,487.5 471.0,489.5 477.2,481.5 483.4,478.5 489.6,476.5 495.8,469.0 502.0,466.5 508.2,469.5 514.4,464.0 520.6,460.5 526.8,464.5 533.0,469.0 539.2,468.5 545.4,470.5 551.6,461.0 557.8,447.0 564.0,439.0 570.2,433.0 576.4,430.0 582.6,430.0 588.8,436.0 595.0,439.5 601.2,432.0 607.4,416.0 613.6,402.0 619.8,400.0 626.0,404.5 632.2,397.0 638.4,389.0 644.6,388.5 650.8,383.5 657.0,387.0 663.2,383.0 669.4,358.0 675.6,360.0 681.8,353.5 688.0,288.0 694.2,269.0 700.4,299.0 706.6,237.0 712.8,147.5 719.0,55.0" stroke="#00bfbf" stroke-width="3" fill="none" stroke-linejoin="round"/><polyline points="105.2,448.0 115.0,459.5 123.5,467.0 134.5,473.5 144.5,475.7 160.0,480.0 176.0,484.4 250.0,497.0 350.0,508.0 451.0,517.0 476.0,517.5 596.0,519.6 613.0,518.6 650.0,513.0 678.0,505.0 688.0,501.0 719.0,489.0" stroke="#0000ff" stroke-width="1.5" stroke-dasharray="1.4 4.2" fill="none"/><polyline points="105.2,450.0 115.0,461.0 123.5,468.0 134.5,474.5 144.5,477.0 160.0,481.0 176.0,485.5 250.0,498.0 350.0,509.0 454.0,518.2 593.0,523.2 615.6,521.6 650.0,517.0 692.0,510.0 714.0,507.0 719.0,506.5" stroke="#008000" stroke-width="1.5" stroke-dasharray="1.4 4.2" fill="none"/><polyline points="105.2,452.0 112.0,461.0 120.5,468.5 140.0,477.5 151.0,480.5 176.0,486.0 250.0,499.0 350.0,510.0 454.0,518.5 609.6,523.4 650.0,526.0 692.0,527.5 697.8,526.7 719.0,526.0" stroke="#ff0000" stroke-width="1.5" stroke-dasharray="1.4 4.2" fill="none"/><polyline points="105.2,421.5 109.0,431.7 112.5,442.0 116.0,447.0 119.5,451.0 123.5,455.0 128.0,458.0 133.0,460.5 138.0,462.5 160.0,470.0 190.0,479.0 230.0,486.0 251.0,489.0 307.0,492.0 356.5,494.5 390.0,495.0 420.0,494.0 460.0,488.0 504.0,474.0 535.0,459.0 550.0,452.0 570.0,441.5 579.0,435.5 597.5,423.5 618.0,404.5 634.0,382.0 642.5,367.5 654.0,342.5 664.0,316.5 680.0,263.5 702.0,165.5 719.0,62.0" stroke="#00bfbf" stroke-width="1.5" stroke-dasharray="1.4 4.2" fill="none"/></g><path d="M178.50 541V60 M255.50 541V60 M333.50 541V60 M410.50 541V60 M488.50 541V60 M565.50 541V60 M643.50 541V60 M100 430.50H720 M100 299.50H720 M100 167.50H720" stroke="#000" stroke-width="1" stroke-dasharray="2 4" fill="none" shape-rendering="crispEdges"/><rect x="100.5" y="60.5" width="620" height="480" fill="none" stroke="#000" stroke-width="1"/><path d="M100.50 540.5v-5.6M100.50 60.5v5.6 M178.50 540.5v-5.6M178.50 60.5v5.6 M255.50 540.5v-5.6M255.50 60.5v5.6 M333.50 540.5v-5.6M333.50 60.5v5.6 M410.50 540.5v-5.6M410.50 60.5v5.6 M488.50 540.5v-5.6M488.50 60.5v5.6 M565.50 540.5v-5.6M565.50 60.5v5.6 M643.50 540.5v-5.6M643.50 60.5v5.6 M720.50 540.5v-5.6M720.50 60.5v5.6 M100.5 430.50h5.6M720.5 430.50h-5.6 M100.5 299.50h5.6M720.5 299.50h-5.6 M100.5 167.50h5.6M720.5 167.50h-5.6" stroke="#000" stroke-width="0.7" fill="none"/><text x="98.70" y="557.3" font-family="Liberation Sans, sans-serif" font-size="17" text-anchor="middle" textLength="40.48" lengthAdjust="spacingAndGlyphs">6000</text><text x="176.70" y="557.3" font-family="Liberation Sans, sans-serif" font-size="17" text-anchor="middle" textLength="40.48" lengthAdjust="spacingAndGlyphs">6500</text><text x="253.70" y="557.3" font-family="Liberation Sans, sans-serif" font-size="17" text-anchor="middle" textLength="40.48" lengthAdjust="spacingAndGlyphs">7000</text><text x="331.70" y="557.3" font-family="Liberation Sans, sans-serif" font-size="17" text-anchor="middle" textLength="40.48" lengthAdjust="spacingAndGlyphs">7500</text><text x="408.70" y="557.3" font-family="Liberation Sans, sans-serif" font-size="17" text-anchor="middle" textLength="40.48" lengthAdjust="spacingAndGlyphs">8000</text><text x="486.70" y="557.3" font-family="Liberation Sans, sans-serif" font-size="17" text-anchor="middle" textLength="40.48" lengthAdjust="spacingAndGlyphs">8500</text><text x="563.70" y="557.3" font-family="Liberation Sans, sans-serif" font-size="17" text-anchor="middle" textLength="40.48" lengthAdjust="spacingAndGlyphs">9000</text><text x="641.70" y="557.3" font-family="Liberation Sans, sans-serif" font-size="17" text-anchor="middle" textLength="40.48" lengthAdjust="spacingAndGlyphs">9500</text><text x="718.70" y="557.3" font-family="Liberation Sans, sans-serif" font-size="17" text-anchor="middle" textLength="50.59" lengthAdjust="spacingAndGlyphs">10000</text><text x="94" y="435.87" font-family="Liberation Sans, sans-serif" font-size="17" text-anchor="end" textLength="24" lengthAdjust="spacingAndGlyphs">0.5</text><text x="94" y="304.37" font-family="Liberation Sans, sans-serif" font-size="17" text-anchor="end" textLength="24" lengthAdjust="spacingAndGlyphs">1.0</text><text x="94" y="172.87" font-family="Liberation Sans, sans-serif" font-size="17" text-anchor="end" textLength="24" lengthAdjust="spacingAndGlyphs">1.5</text><text x="99.5" y="54.8" font-family="Liberation Sans, sans-serif" font-size="17" textLength="55.3" lengthAdjust="spacingAndGlyphs">1e&#8722;18</text><text x="409" y="53.2" font-family="Liberation Sans, sans-serif" font-size="20" text-anchor="middle" textLength="113.2" lengthAdjust="spacingAndGlyphs">107672401</text><text x="410" y="574.5" font-family="Liberation Sans, sans-serif" font-size="17" text-anchor="middle" textLength="128.4" lengthAdjust="spacingAndGlyphs">Wavelength (A)</text><text x="0" y="0" font-family="Liberation Sans, sans-serif" font-size="17" text-anchor="middle" textLength="168.1" lengthAdjust="spacingAndGlyphs" transform="translate(59,299) rotate(-90)">Flux (erg/s/cm^2/A)</text><rect x="608.5" y="70.5" width="100" height="93" fill="#fff" stroke="#000" stroke-width="1"/><path d="M619 84.50H653" stroke="#0000ff" stroke-width="3.1" fill="none"/><text x="662" y="91.30" font-family="Liberation Sans, sans-serif" font-size="22">071</text><path d="M619 105.83H653" stroke="#008000" stroke-width="3.1" fill="none"/><text x="662" y="112.63" font-family="Liberation Sans, sans-serif" font-size="22">085</text><path d="M619 127.16H653" stroke="#ff0000" stroke-width="3.1" fill="none"/><text x="662" y="133.96" font-family="Liberation Sans, sans-serif" font-size="22">095</text><path d="M619 148.49H653" stroke="#00bfbf" stroke-width="3.1" fill="none"/><text x="662" y="155.29" font-family="Liberation Sans, sans-serif" font-size="22">200</text></svg></body></html>
